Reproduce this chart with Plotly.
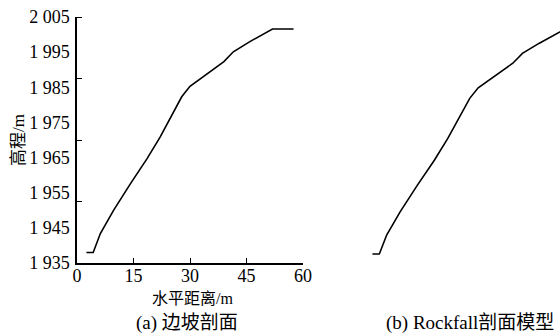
import plotly.graph_objects as go

# Profile data (horizontal distance m, elevation m)
x_profile = [2.5, 4.3, 6.2, 9.7, 14.2, 18.6, 22.1, 24.7, 26.3, 27.8, 30.0, 33.5, 39.0, 41.5, 45.9, 51.9, 57.5]
y_profile = [1938.0, 1938.0, 1943.4, 1950.0, 1957.6, 1964.7, 1970.9, 1976.1, 1979.4, 1982.3, 1985.3, 1988.0, 1992.3, 1995.1, 1998.0, 2001.6, 2001.6]

x_ticks = [0, 15, 30, 45, 60]
y_ticks = [1935, 1945, 1955, 1965, 1975, 1985, 1995, 2005]
y_ticktext = ["1 935", "1 945", "1 955", "1 965", "1 975", "1 985", "1 995", "2 005"]

W, H = 560, 335
ML, MR, MT, MB = 77, 0, 17, 72
PW = W - ML - MR
PH = H - MT - MB

def dom(px0, px1):
    return [(px0 - ML) / PW, (px1 - ML) / PW]

def px_x(px):
    return (px - ML) / PW

def px_y(py):
    return (H - MB - py) / PH

serif = "Liberation Serif, Times New Roman, serif"
cjk = "Liberation Serif, Noto Sans CJK SC, serif"

fig = go.Figure()
fig.add_trace(go.Scatter(x=x_profile, y=y_profile, mode="lines",
                         line=dict(color="black", width=1.6), xaxis="x", yaxis="y",
                         showlegend=False, hoverinfo="skip"))
fig.add_trace(go.Scatter(x=x_profile, y=y_profile, mode="lines",
                         line=dict(color="black", width=1.6), xaxis="x2", yaxis="y2",
                         showlegend=False, hoverinfo="skip"))

fig.update_layout(
    width=W, height=H,
    margin=dict(l=ML, r=MR, t=MT, b=MB, autoexpand=False),
    paper_bgcolor="white", plot_bgcolor="white",
    font=dict(family=cjk, size=18, color="black"),
    xaxis=dict(domain=dom(77, 303), range=[0, 60], tickvals=x_ticks,
               showline=True, linecolor="black", linewidth=1.5, mirror=False,
               ticks="inside", ticklen=5, tickwidth=1.3, tickcolor="black",
               showgrid=False, zeroline=False, automargin=False,
               tickfont=dict(family=serif, size=18), ticklabelstandoff=-4),
    yaxis=dict(range=[1935, 2005], tickvals=y_ticks, ticktext=y_ticktext,
               showline=True, linecolor="black", linewidth=1.5,
               ticks="", showgrid=False, zeroline=False, automargin=False,
               tickfont=dict(family=serif, size=18), ticklabelstandoff=2,
               minor=dict(tick0=1935, dtick=17.5, ticks="inside", ticklen=5,
                          tickwidth=1.3, tickcolor="black", showgrid=False),
               title=dict(text="高程/m", font=dict(family=cjk, size=17), standoff=0)),
    xaxis2=dict(domain=dom(362.8, 560), range=[0, 51.27], visible=False, anchor="y2"),
    yaxis2=dict(range=[1935.45, 2005.45], visible=False, anchor="x2"),
    annotations=[
        dict(text="水平距离/m", x=px_x(192), y=px_y(298), xref="paper", yref="paper",
             xanchor="center", yanchor="middle",
             showarrow=False, font=dict(family=cjk, size=16)),
        dict(text="(a) 边坡剖面", x=px_x(187), y=px_y(323), xref="paper", yref="paper",
             xanchor="center", yanchor="middle",
             showarrow=False, font=dict(family=cjk, size=19)),
        dict(text="(b) Rockfall剖面模型", x=px_x(470), y=px_y(323), xref="paper", yref="paper",
             xanchor="center", yanchor="middle",
             showarrow=False, font=dict(family=cjk, size=19)),
    ],
)

fig.write_html("out.html", config={"displayModeBar": False},
               post_script="document.body.style.margin='0';document.body.style.padding='0';document.body.style.overflow='hidden';")
